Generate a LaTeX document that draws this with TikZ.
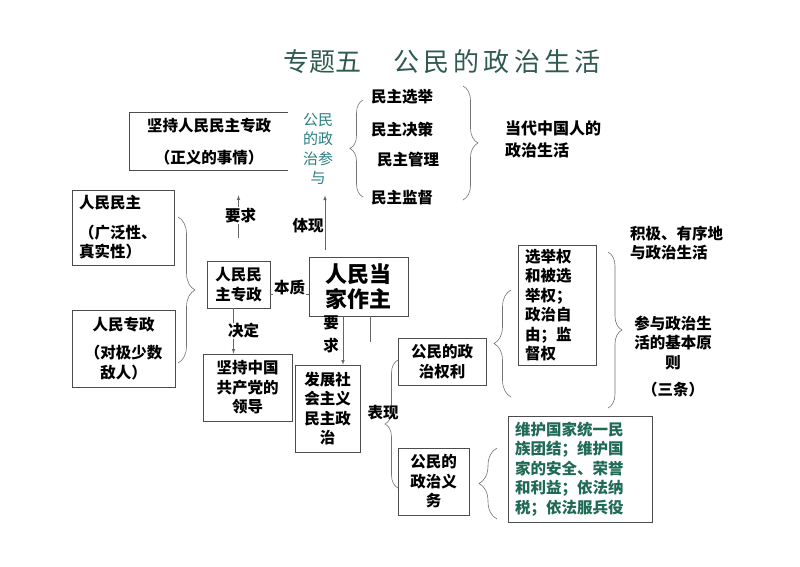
\documentclass[tikz,border=0pt]{standalone}
\usepackage{fontspec}
\setmainfont{Noto Sans CJK SC}
\usepackage{xcolor}
\usetikzlibrary{arrows, calc, positioning, decorations.pathreplacing}
\definecolor{titlegreen}{HTML}{2F5A50}
\definecolor{canyuteal}{HTML}{2A8080}
\definecolor{dutygreen}{HTML}{1E6A55}
\tikzset{
  % connector style
  garr/.style={
    draw=black!60, line width=0.6pt
  },
  % curly braces
  brc/.style={draw=black!55, line width=0.6pt, decorate,
    decoration={brace, amplitude=#1}},
  % boxes and labels
  box/.style={draw=black!70, line width=0.7pt, align=center, inner sep=0pt,
    font=\bfseries\fontsize{15.5}{19.5}\selectfont},
  lbl/.style={font=\bfseries\fontsize{15.5}{19.5}\selectfont, inner sep=1pt},
}

\begin{document}
\begin{tikzpicture}[x=1pt, y=-1pt]
  \fill[white] (0,0) rectangle (800,566);
  \useasboundingbox (0,0) rectangle (800,566);

  % title
  \node[font=\fontsize{26}{30}\selectfont, text=titlegreen] (t1) at (322,62) {专题五};
  \node[font=\fontsize{26}{30}\selectfont\addfontfeatures{LetterSpace=16}, text=titlegreen] (t2) at (497,62) {公民的政治生活};

  % top row
  \node[box, draw=none, minimum width=158pt, minimum height=57pt] (jc) at (209,141.5)
    {坚持人民民主专政\\[12pt]（正义的事情）};
  \draw[garr, draw=black!70, line width=0.7pt] (jc.north east) -| (jc.south west) -- (jc.south east);
  \node[align=center, text=canyuteal, font=\fontsize{15}{19.5}\selectfont] (cy) at (318,149)
    {公民\\的政\\治参\\与};
  \node[lbl] (x1) at (402,97) {民主选举};
  \node[lbl] (x2) at (402,130) {民主决策};
  \node[lbl] (x3) at (408,160) {民主管理};
  \node[lbl] (x4) at (402,198) {民主监督};
  \node[lbl, anchor=west, align=left, font=\bfseries\fontsize{16}{22}\selectfont] (dd) at (504,139)
    {当代中国人的\\政治生活};
  \draw[brc=13pt] (363,197) -- (363,100);
  \draw[brc=15pt] (463,86) -- (463,200);

  % left column
  \node[box, align=left, text width=88pt, minimum width=102pt, minimum height=75pt] (mz) at (123,227.5)
    {人民民主\\[10pt]（广泛性、\\真实性）};
  \node[box, minimum width=103pt, minimum height=77pt] (zz) at (123.5,348.5)
    {人民专政\\[8.5pt]（对极少数\\敌人）};
  \draw[brc=17pt] (178,217) -- (178,363);

  % centre
  \node[box, minimum width=63pt, minimum height=47pt] (dz) at (238.5,284.5) {人民民\\主专政};
  \node[box, minimum width=99pt, minimum height=59pt, font=\bfseries\fontsize{22}{25}\selectfont] (jz) at (358.5,286.5)
    {人民当\\家作主};
  \node[box, minimum width=89pt, minimum height=67pt] (ld) at (247.5,387.5) {坚持中国\\共产党的\\领导};
  \node[box, minimum width=65pt, minimum height=87pt] (fz) at (327.5,408.5) {发展社\\会主义\\民主政\\治};

  \draw[-latex, garr, shorten <=23pt, shorten >=25pt] (dz.north) -- (dz.north |- jc.south)
    node[lbl, midway, fill=white, xshift=2pt] {要求};
  \draw[-latex, garr, shorten <=7pt, shorten >=7pt] ([xshift=-33.5pt]jz.north) -- ([xshift=-33.5pt]jz.north |- cy.south)
    node[lbl, midway, xshift=-17pt, yshift=-3pt] {体现};
  \draw[garr] ([yshift=-10pt]dz.east) -- ([yshift=-10pt]dz.east -| jz.west)
    node[lbl, midway, fill=white, yshift=7pt] {本质};
  \draw[-latex, garr] ([xshift=-5pt]dz.south) -- ([xshift=-5pt]dz.south |- ld.north)
    node[lbl, midway, fill=white, xshift=10pt] {决定};
  \draw[-latex, garr] ([xshift=-15.5pt]jz.south) -- ([xshift=-15.5pt]jz.south |- fz.north)
    node[lbl, midway, align=center, xshift=-12pt, yshift=6pt] {要\\[3pt]求};
  \coordinate (jzend) at (370.5,342);
  \draw[garr] (jzend |- jz.south) -- (jzend);

  % rights and duties
  \node[box, minimum width=88pt, minimum height=47pt] (ql) at (442,361.5) {公民的政\\治权利};
  \node[box, minimum width=71pt, minimum height=67pt] (yw) at (433.5,481.5) {公民的\\政治义\\务};
  \draw[brc=13pt] (398,488) -- (398,360);
  \node[lbl] (bx) at (383,413) {表现};

  \node[box, align=left, text width=64pt, minimum width=78pt, minimum height=120pt] (xj) at (557,305)
    {选举权\\和被选\\举权；\\政治自\\由；监\\督权};
  \draw[brc=17pt] (511,397) -- (511,290);
  \draw[brc=14pt] (608,252) -- (608,408);
  \node[lbl, anchor=west, align=left] (jj) at (629,243) {积极、有序地\\与政治生活};
  \node[lbl, align=center] (yz) at (673,356.5) {参与政治生\\活的基本原\\则\\[8pt]（三条）};

  \node[box, align=left, text=dutygreen, text width=130pt, minimum width=144pt, minimum height=106pt] (yd) at (580,469)
    {维护国家统一民\\族团结；维护国\\家的安全、荣誉\\和利益；依法纳\\税；依法服兵役};
  \draw[brc=18pt] (497,519) -- (497,448);
\end{tikzpicture}
\end{document}
